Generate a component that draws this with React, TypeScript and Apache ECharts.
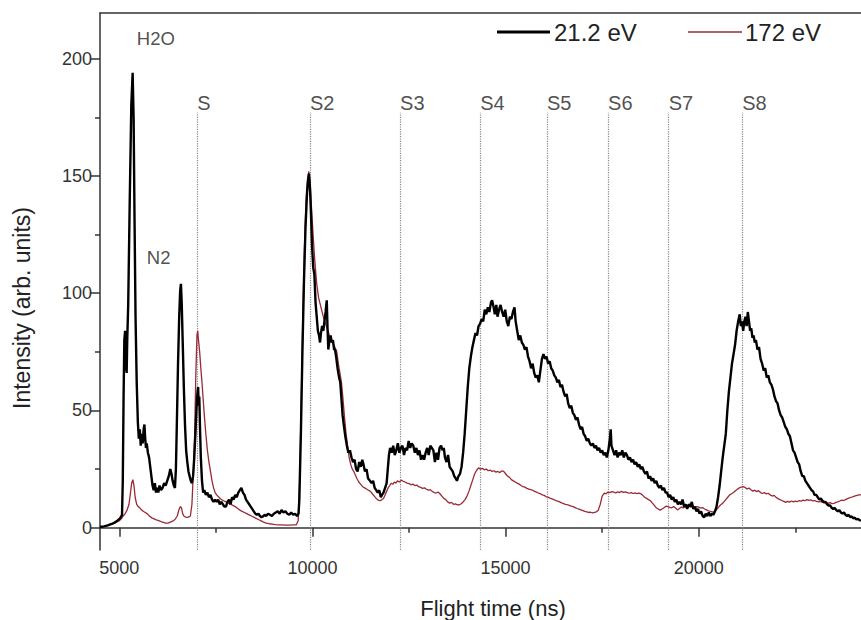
import React, { useEffect, useRef } from "react";
import * as echarts from "echarts";

// 21.2 eV spectrum: [flight time (ns), intensity]
const series212: number[][] = [
  [4500,0.3],[4600,0.6],[4700,1.0],[4800,1.6],[4880,2.2],[4950,3.0],[5020,4.0],[5070,5.5],
  [5090,20],[5110,55],[5130,80],[5150,84],[5160,67],[5175,83],[5190,66],[5205,80],[5230,95],[5270,140],[5310,180],[5345,194],[5370,175],[5395,130],[5420,90],[5450,62],[5480,45],[5505,38],[5530,42],[5555,35],[5580,40],[5605,36],[5630,42],[5650,44],[5670,38],[5690,34],[5710,36],[5740,32],[5770,30],[5800,26],[5830,22],[5860,18],[5890,16],[5920,19],[5950,15],[5980,17],[6010,15],[6040,18],[6080,16],[6120,17],[6160,19],[6200,18],[6240,20],[6280,22],[6320,25],[6350,23],[6380,20],[6410,18],[6440,17],[6465,25],[6490,45],[6520,70],[6550,90],[6575,101],[6595,104],[6615,96],[6640,80],[6670,60],[6700,44],[6730,33],[6760,28],[6790,24],[6820,22],[6850,20],[6880,19],[6910,22],[6940,30],[6970,40],[7000,52],[7025,58],[7040,60],[7055,52],[7070,56],[7090,42],[7110,30],[7140,20],[7170,15],[7200,16],[7240,14],[7280,15],[7320,13],[7360,14],[7400,12],[7440,11],[7480,12],[7520,11],[7560,12],[7600,10],[7640,11],[7680,10],[7720,9],[7760,9],[7800,11],[7840,12],[7880,10],[7920,13],[7960,12],[8000,14],[8040,13],[8080,15],[8120,16],[8160,17],[8200,15],[8240,14],[8280,12],[8320,11],[8360,10],[8400,9],[8440,8],[8480,7],[8520,6],[8560,5.5],[8600,6],[8640,5],[8680,4.5],[8720,4.8],[8760,5.5],[8800,5],[8850,6],[8900,5.5],[8950,5],[9000,6],[9050,6.5],[9100,7],[9150,6],[9200,7.5],[9250,6.5],[9300,7],[9350,6],[9400,5.5],[9450,6.5],[9500,5.5],[9550,6],[9600,5],[9640,6],
  [9660,12],[9700,40],[9740,75],[9780,105],[9820,128],[9860,143],[9890,149],[9910,151],[9935,145],[9960,135],[9990,120],[10020,111],[10050,108],[10080,96],[10110,90],[10140,84],[10170,82],[10196,79],[10220,83],[10250,86],[10280,84],[10310,88],[10340,92],[10370,97],[10390,85],[10410,76],[10440,80],[10470,82],[10500,79],[10530,80],[10560,76],[10585,76],[10620,72],[10650,68],[10690,64],[10720,62],[10750,55],[10780,48],[10810,44],[10850,39],[10890,35],[10930,32],[10970,33],[11010,30],[11050,28],[11090,29],[11130,25],[11170,24],[11210,28],[11250,26],[11290,29],[11320,27],[11360,24],[11400,25],[11440,21],[11490,20],[11530,19],[11570,20],[11610,17],[11650,16],[11690,15],[11730,16],[11770,13],[11800,14],[11840,15],[11880,17],[11920,19],[11950,25],[11980,31],[12010,34],[12050,32],[12090,35],[12130,31],[12170,33],[12210,36],[12250,32],[12290,34],[12330,35],[12370,31],[12410,34],[12450,33],[12490,37],[12530,34],[12570,36],[12610,35],[12650,32],[12690,34],[12730,31],[12770,33],[12810,29],[12850,31],[12890,29],[12930,32],[12970,34],[13010,31],[13050,35],[13090,34],[13130,33],[13170,28],[13210,32],[13250,29],[13290,34],[13330,35],[13370,33],[13400,34],[13430,30],[13470,28],[13510,31],[13550,26],[13590,25],[13630,24],[13670,22],[13710,21],[13740,20],[13780,22],[13820,23],[13860,26],[13900,32],[13940,40],[13980,50],[14020,60],[14060,68],[14100,73],[14140,77],[14180,80],[14220,83],[14260,82],[14300,86],[14340,87],[14380,89],[14420,88],[14460,93],[14500,91],[14540,94],[14580,92],[14620,96],[14650,97],[14690,94],[14720,91],[14760,95],[14790,90],[14830,93],[14870,95],[14910,92],[14950,90],[14990,93],[15030,88],[15070,86],[15110,90],[15150,89],[15190,92],[15230,94],[15260,88],[15300,84],[15340,80],[15380,82],[15420,79],[15460,78],[15500,76],[15540,77],[15580,73],[15620,71],[15660,68],[15700,70],[15740,66],[15780,64],[15820,65],[15860,62],[15900,67],[15940,72],[15980,74],[16020,72],[16060,73],[16100,70],[16140,71],[16180,68],[16220,67],[16260,65],[16300,64],[16340,62],[16380,63],[16420,60],[16460,61],[16500,58],[16540,56],[16580,57],[16620,53],[16660,51],[16700,52],[16740,49],[16780,48],[16820,46],[16860,47],[16900,44],[16940,42],[16980,43],[17020,40],[17060,39],[17100,37],[17140,38],[17180,36],[17220,35],[17260,36],[17300,34],[17340,35],[17380,33],[17420,34],[17460,32],[17500,33],[17540,31],[17580,32],[17620,30],[17660,33],[17700,38],[17720,42],[17740,35],[17780,33],[17820,31],[17860,33],[17900,30],[17940,32],[17980,31],[18020,33],[18060,30],[18100,32],[18140,31],[18180,29],[18220,30],[18260,28],[18300,29],[18340,27],[18380,28],[18420,26],[18460,27],[18500,25],[18540,26],[18580,24],[18620,23],[18660,24],[18700,21],[18740,22],[18780,20],[18820,21],[18860,19],[18900,20],[18940,18],[18980,17],[19020,18],[19060,16],[19100,17],[19140,15],[19180,15],[19220,13],[19260,14],[19300,12],[19340,13],[19380,11],[19420,12],[19460,10],[19500,11],[19540,10],[19580,12],[19620,9],[19660,10],[19700,8],[19740,10],[19780,9],[19820,11],[19860,8],[19900,9],[19940,7],[19980,8],[20020,6],[20060,7],[20100,5],[20140,4.5],[20180,6],[20220,5],[20260,6.5],[20300,5],[20340,6],[20380,5.5],[20420,7],[20460,9],[20500,13],[20540,18],[20580,24],[20620,30],[20660,35],[20700,40],[20740,50],[20780,58],[20820,64],[20860,70],[20900,74],[20940,78],[20980,84],[21020,88],[21060,91],[21090,86],[21120,88],[21150,84],[21180,88],[21210,90],[21240,86],[21270,92],[21300,88],[21330,84],[21360,85],[21390,81],[21420,82],[21450,79],[21480,80],[21520,76],[21560,77],[21600,72],[21640,70],[21680,67],[21720,68],[21760,64],[21800,65],[21840,62],[21880,61],[21920,59],[21960,56],[22000,54],[22040,53],[22080,50],[22120,48],[22160,47],[22200,45],[22240,43],[22280,42],[22320,40],[22360,39],[22400,36],[22440,33],[22480,32],[22520,30],[22560,28],[22600,27],[22640,24],[22680,22],[22720,22],[22760,20],[22800,19],[22840,18],[22880,17],[22920,16],[22960,15.5],[23000,14],[23040,14],[23080,13],[23120,12],[23160,12.5],[23200,11.5],[23240,11],[23280,11],[23320,10],[23360,9.5],[23400,9.5],[23440,8.5],[23480,8],[23520,8.5],[23560,7.5],[23600,7],[23640,7.5],[23680,6.5],[23720,6],[23760,6.5],[23800,5.5],[23840,5],[23880,5.5],[23920,4.5],[23960,4.8],[24000,4],[24040,4.3],[24080,3.5],[24120,3.8],[24160,3.2],[24200,3]
];

// 172 eV spectrum: [flight time (ns), intensity]
const series172: number[][] = [
  [4500,0.3],[4600,0.6],[4700,1.0],[4800,1.5],[4900,2.2],[5000,3],[5060,4],[5100,5],[5150,6],[5200,7.5],[5250,10],[5290,15],[5320,19],[5350,20.5],[5380,18],[5410,13],[5450,10],[5490,9],[5530,8.5],[5580,7.5],[5620,7],[5670,6.5],[5720,6],[5780,5],[5840,4.2],[5900,3.8],[5960,3.3],[6020,3],[6080,2.6],[6140,2.3],[6200,2],[6260,2],[6320,2.4],[6380,2.8],[6440,3.5],[6500,5],[6540,7.5],[6580,9],[6610,8.5],[6640,6],[6680,4.8],[6720,4.5],[6760,4.4],[6800,4.6],[6840,5],[6880,10],[6920,25],[6950,40],[6980,65],[7010,82],[7030,84],[7050,80],[7080,75],[7110,68],[7140,62],[7170,55],[7200,48],[7240,40],[7280,33],[7320,28],[7360,24],[7400,20],[7440,17],[7480,15],[7520,14],[7580,13],[7640,12],[7700,11.5],[7760,11],[7820,10.5],[7880,10],[7940,9.5],[8000,9],[8060,8.3],[8120,7.5],[8180,7],[8240,6.5],[8300,6],[8360,5.5],[8420,5],[8480,4.5],[8540,4],[8600,3.5],[8660,3],[8720,2.5],[8800,2],[8880,1.7],[8960,1.5],[9040,1.3],[9120,1.2],[9200,1.2],[9300,1.1],[9400,1.1],[9500,1.2],[9580,1.2],
  [9630,3],[9670,20],[9710,55],[9750,90],[9790,118],[9830,138],[9870,148],[9905,152],[9940,147],[9980,135],[10020,124],[10060,114],[10110,104],[10160,98],[10220,94],[10280,90],[10340,87],[10400,84],[10460,81],[10520,79],[10580,77],[10630,75],[10670,70],[10710,66],[10750,62],[10790,55],[10830,47],[10870,40],[10910,35],[10950,30],[10990,27],[11030,25],[11070,24],[11110,22.5],[11150,21],[11200,19.5],[11250,18.5],[11300,17.5],[11350,17],[11400,16.5],[11450,16],[11500,15.5],[11550,14.5],[11600,13.5],[11650,12.5],[11700,11.8],[11750,11.5],[11800,12],[11840,12.5],[11880,14],[11920,15.5],[11960,17],[12000,18],[12040,19],[12080,18.5],[12120,19.5],[12160,19],[12200,20],[12250,19.5],[12300,20.3],[12350,19.8],[12400,19.5],[12450,19],[12500,18.8],[12550,18.3],[12600,18.6],[12650,18],[12700,18.2],[12750,17.5],[12800,17.2],[12850,16.8],[12900,17],[12950,16.4],[13000,16],[13050,16.2],[13100,15.5],[13150,15],[13200,14.8],[13250,15.2],[13300,14.5],[13350,13.5],[13400,12.5],[13450,12],[13500,11],[13550,10.5],[13600,10.8],[13650,10],[13700,10.2],[13750,9.8],[13800,9.7],[13850,10.2],[13900,11],[13950,12],[14000,13.5],[14050,15.5],[14100,18],[14150,20.5],[14200,23],[14250,24.5],[14300,25.5],[14350,25],[14400,25.3],[14450,24.7],[14500,25],[14550,24.3],[14600,24.6],[14650,24],[14700,24.3],[14750,23.7],[14800,24],[14850,23.5],[14900,24.2],[14950,24],[15000,23],[15050,22],[15100,21.5],[15150,20.5],[15200,20],[15250,19.5],[15300,19],[15350,18.6],[15400,18],[15450,17.5],[15500,17.3],[15550,16.8],[15600,16.5],[15650,16.2],[15700,16],[15750,15.5],[15800,15.2],[15850,14.8],[15900,14.5],[15950,14],[16000,13.8],[16050,13.2],[16100,13],[16150,12.6],[16200,12.3],[16250,12],[16300,11.6],[16350,11.3],[16400,11],[16450,10.6],[16500,10.3],[16550,10],[16600,9.8],[16650,9.5],[16700,9.2],[16750,9],[16800,8.6],[16850,8.2],[16900,7.9],[16950,7.6],[17000,7.3],[17050,7],[17100,6.8],[17150,6.5],[17200,6.6],[17250,6.3],[17300,6.5],[17350,6.8],[17400,7.5],[17450,10],[17500,13.5],[17550,14.7],[17600,14.5],[17650,15.2],[17700,15],[17750,15.4],[17800,15.2],[17850,14.8],[17900,15.3],[17950,15],[18000,15.5],[18050,15.1],[18100,15.3],[18150,15],[18200,14.7],[18250,15],[18300,14.6],[18350,14.9],[18400,14.5],[18450,14.8],[18500,14.5],[18550,13.8],[18600,13],[18650,12.5],[18700,12],[18750,11.5],[18800,10.5],[18850,9.5],[18900,8.5],[18950,8],[19000,7.5],[19050,8],[19100,8.5],[19150,9.2],[19200,9],[19250,8.7],[19300,8.5],[19350,9],[19400,8.4],[19450,7.6],[19500,8.2],[19550,8.8],[19600,8.4],[19650,9],[19700,8.6],[19750,9.2],[19800,8.8],[19850,9.3],[19900,8.7],[19950,9],[20000,8.8],[20050,8.4],[20100,8.6],[20150,8],[20200,7.6],[20250,7.2],[20300,7],[20350,6.8],[20400,6.7],[20450,7.5],[20500,8.5],[20550,9.5],[20600,10.2],[20650,11],[20700,12],[20750,13],[20800,14],[20850,14.5],[20900,15],[20950,15.8],[21000,16.4],[21050,17],[21100,17.3],[21150,17.5],[21200,17.2],[21250,16.5],[21300,16.9],[21350,16.2],[21400,15.6],[21450,16],[21500,15.4],[21550,15.8],[21600,15],[21650,14.6],[21700,15],[21750,14.4],[21800,14.7],[21850,14],[21900,13.5],[21950,13.8],[22000,13],[22050,12.4],[22100,12],[22150,11.6],[22200,11.2],[22250,10.8],[22300,11.2],[22350,10.9],[22400,11.4],[22450,11],[22500,11.3],[22550,11.1],[22600,11.6],[22650,11.3],[22700,11.8],[22750,11.5],[22800,12],[22850,11.7],[22900,11.9],[22950,11.4],[23000,11.6],[23050,11.2],[23100,11],[23150,11.2],[23200,10.8],[23250,10.6],[23300,10.9],[23350,10.4],[23400,10.7],[23450,10.3],[23500,10.4],[23550,10.8],[23600,11],[23650,11.4],[23700,11.8],[23750,11.6],[23800,12],[23850,12.4],[23900,12.7],[23950,13],[24000,13.3],[24050,13.6],[24100,13.8],[24150,14],[24200,14]
];

// Sulfur cluster markers
const peakNames = ["S", "S2", "S3", "S4", "S5", "S6", "S7", "S8"];
const peakTimes = [7016, 9936, 12269, 14342, 16071, 17652, 19223, 21125];

// Molecule labels [time, intensity, text]
const moleculeLabels: [number, number, string][] = [
  [5453, 208.8, "H2O"],
  [5713, 115.4, "N2"],
];

const xTicks = [5000, 10000, 15000, 20000];
const xMinorTicks = [7500, 12500, 17500, 22500];
const yTicks = [0, 50, 100, 150, 200];
const yMinorTicks = [25, 75, 125, 175];

const legendNames = ["21.2 eV", "172 eV"];

const FONT = '"Liberation Sans", Arial, Helvetica, sans-serif';
const AXIS_COLOR = "#333";

export default function App() {
  const ref = useRef<HTMLDivElement>(null);

  useEffect(() => {
    if (!ref.current) return;
    const chart = echarts.init(ref.current, undefined, { renderer: "svg" });

    const labelTop = 181;
    const lineTop = 177;
    const yMin = -9.5;
    const yMax = 219.5;

    const option: any = {
      animation: false,
      backgroundColor: "#fff",
      grid: { left: 100, top: 13, right: 0, bottom: 70, containLabel: false },
      xAxis: [
        {
          type: "value",
          min: 4500,
          max: 24200,
          position: "bottom",
          axisLine: { show: true, lineStyle: { color: AXIS_COLOR, width: 1.5 } },
          axisTick: { show: true, customValues: xTicks, length: 9, inside: false, lineStyle: { color: AXIS_COLOR, width: 1.5 } },
          axisLabel: {
            show: true,
            customValues: xTicks,
            margin: 9,
            fontSize: 18,
            color: "#333",
            fontFamily: FONT,
            formatter: (v: number) => String(v),
          },
          splitLine: { show: false },
        },
        {
          type: "value",
          min: 4500,
          max: 24200,
          position: "bottom",
          axisLine: { show: false },
          axisTick: { show: true, customValues: xMinorTicks, length: 5, lineStyle: { color: AXIS_COLOR, width: 1.5 } },
          axisLabel: { show: false },
          splitLine: { show: false },
        },
        {
          type: "value",
          min: 4500,
          max: 24200,
          position: "top",
          axisLine: { show: true, lineStyle: { color: AXIS_COLOR, width: 1.5 } },
          axisTick: { show: false },
          axisLabel: { show: false },
          splitLine: { show: false },
        },
      ],
      yAxis: [
        {
          type: "value",
          min: yMin,
          max: yMax,
          axisLine: { show: true, lineStyle: { color: AXIS_COLOR, width: 1.5 } },
          axisTick: { show: true, customValues: yTicks, length: 10, lineStyle: { color: AXIS_COLOR, width: 1.5 } },
          axisLabel: {
            show: true,
            customValues: yTicks,
            margin: 8,
            fontSize: 18,
            color: "#333",
            fontFamily: FONT,
            formatter: (v: number) => String(v),
          },
          splitLine: { show: false },
        },
        {
          type: "value",
          min: yMin,
          max: yMax,
          position: "left",
          axisLine: { show: false },
          axisTick: { show: true, customValues: yMinorTicks, length: 5, lineStyle: { color: AXIS_COLOR, width: 1.5 } },
          axisLabel: { show: false },
          splitLine: { show: false },
        },
      ],
      series: [
        {
          name: legendNames[1],
          type: "line",
          data: series172,
          showSymbol: false,
          symbol: "none",
          lineStyle: { color: "#9a2a36", width: 1.3 },
          z: 3,
          markLine: {
            silent: true,
            symbol: ["none", "none"],
            label: { show: false },
            lineStyle: { type: "dotted", color: "#888", width: 1.2 },
            data: peakTimes.map((t) => [
              { coord: [t, yMin] },
              { coord: [t, lineTop] },
            ]),
            z: 1,
          },
        },
        {
          name: legendNames[0],
          type: "line",
          data: series212,
          showSymbol: false,
          symbol: "none",
          lineStyle: { color: "#000", width: 2.4 },
          z: 4,
        },
        {
          type: "scatter",
          symbolSize: 0,
          silent: true,
          data: peakTimes.map((t, i) => [t, labelTop, peakNames[i]]),
          label: {
            show: true,
            position: [0, 0],
            align: "left",
            verticalAlign: "middle",
            formatter: (p: any) => p.data[2],
            fontSize: 20,
            color: "#222",
            fontFamily: FONT,
          },
          z: 5,
        },
        {
          type: "scatter",
          symbolSize: 0,
          silent: true,
          data: moleculeLabels,
          label: {
            show: true,
            position: [0, 0],
            align: "left",
            verticalAlign: "middle",
            formatter: (p: any) => p.data[2],
            fontSize: 18.5,
            color: "#222",
            fontFamily: FONT,
          },
          z: 5,
        },
      ],
      graphic: [
        {
          type: "line",
          shape: { x1: 497, y1: 32, x2: 550, y2: 32 },
          style: { stroke: "#000", lineWidth: 3 },
        },
        {
          type: "text",
          x: 554,
          y: 32,
          style: { text: legendNames[0], fontSize: 24, fontFamily: FONT, fill: "#222", align: "left", verticalAlign: "middle" },
        },
        {
          type: "line",
          shape: { x1: 688, y1: 32, x2: 742, y2: 32 },
          style: { stroke: "#9a2a36", lineWidth: 1.5 },
        },
        {
          type: "text",
          x: 745,
          y: 32,
          style: { text: legendNames[1], fontSize: 24, fontFamily: FONT, fill: "#222", align: "left", verticalAlign: "middle" },
        },
        {
          type: "text",
          x: 493,
          y: 608,
          style: { text: "Flight time (ns)", fontSize: 22, fontFamily: FONT, fill: "#222", align: "center", verticalAlign: "middle" },
        },
        {
          type: "text",
          x: 22,
          y: 308,
          rotation: Math.PI / 2,
          style: { text: "Intensity (arb. units)", fontSize: 23, fontFamily: FONT, fill: "#222", align: "center", verticalAlign: "middle" },
        },
      ],
    };

    chart.setOption(option);
    return () => chart.dispose();
  }, []);

  return (
    <div
      ref={ref}
      style={{ position: "absolute", left: 0, top: 0, width: 861, height: 620, background: "#fff" }}
    />
  );
}
